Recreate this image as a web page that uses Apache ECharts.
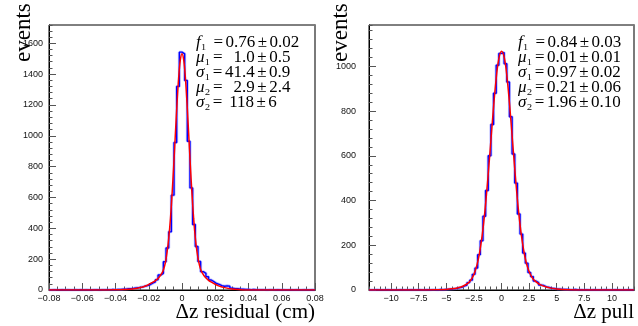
<!DOCTYPE html>
<html><head><meta charset="utf-8">
<script src="https://cdn.jsdelivr.net/npm/echarts@6/dist/echarts.min.js"></script>
<style>html,body{margin:0;padding:0;background:#fff}#c{width:638px;height:326px}</style>
</head><body><div id="c"></div>
<script>
// ---------- data: left panel (Δz residual, cm) ----------
const residMin = -0.08, residMax = 0.08, residBinWidth = 0.0016;
const residCounts = [
 0,1,0,0,2,0,1,0,0,1,
 0,2,0,1,0,0,1,2,0,1,
 1,2,1,3,2,4,3,5,6,8,
 9,11,14,16,19,24,28,34,44,52,
 66,97,108,183,272,377,615,956,1320,1542,
 1531,1359,964,662,425,282,185,119,108,86,
 65,54,42,36,28,24,27,25,12,9,
 8,6,5,4,4,2,3,2,1,2,
 1,0,1,1,0,2,0,1,0,0,
 1,0,1,0,0,1,0,0,1,0
];
const residFitX = [-0.08,-0.05,-0.04,-0.035,-0.03,-0.025,-0.022,-0.02,-0.018,-0.016,-0.014,-0.012,-0.011,-0.01,-0.009,-0.008,-0.007,-0.006,-0.005,-0.004,-0.003,-0.002,-0.001,0,0.001,0.002,0.003,0.004,0.005,0.006,0.007,0.008,0.009,0.01,0.011,0.012,0.014,0.016,0.018,0.02,0.022,0.025,0.03,0.035,0.04,0.05,0.08];
const residFitY = [0,0.2,1,2.5,6,16,26,36,48,61,80,111,136,178,244,334,457,617,804,1009,1208,1378,1491,1532,1493,1382,1214,1016,812,625,464,340,249,185,140,114,82,63,49,37,27,17,6.5,2.2,0.6,0.1,0];
const residLabels = [-0.08,-0.06,-0.04,-0.02,0,0.02,0.04,0.06,0.08];
const residYMax = 1718;
const residStats = [['f','₁ ','0.76','0.02'],['μ','₁','  1.0','0.5'],['σ','₁','41.4','0.9'],['μ','₂','  2.9','2.4'],['σ','₂',' 118','6']];

// ---------- data: right panel (Δz pull) ----------
const pullMin = -12, pullMax = 12, pullBinWidth = 0.24;
const pullCounts = [
 0,0,1,0,0,0,1,0,0,0,
 0,1,0,0,0,1,0,0,1,0,
 0,1,0,1,1,0,2,1,2,3,
 4,6,7,10,12,18,22,33,44,70,
 98,158,220,330,445,600,740,880,1005,1058,
 1062,1012,930,775,608,478,340,250,165,120,
 78,60,40,33,22,20,14,12,8,7,
 5,4,3,2,2,1,1,2,0,1,
 0,1,0,0,1,0,0,0,1,0,
 0,0,1,0,0,0,0,1,0,0
];
const pullFitX = [-12,-8,-7,-6,-5,-4.5,-4,-3.5,-3,-2.75,-2.5,-2.25,-2,-1.75,-1.5,-1.25,-1,-0.75,-0.5,-0.25,0,0.25,0.5,0.75,1,1.25,1.5,1.75,2,2.25,2.5,2.75,3,3.5,4,4.5,5,6,7,8,12];
const pullFitY = [0,0.05,0.2,0.7,2.7,5.1,9.4,16.7,32,46.5,70,107,163,244,354,490,644,800,937,1032,1068,1040,951,819,665,512,374,263,180,121,83,58,42,24,14.4,8.4,4.6,1.2,0.3,0.05,0];
const pullLabels = [-10,-7.5,-5,-2.5,0,2.5,5,7.5,10];
const pullYMax = 1185;
const pullStats = [['f','₁ ','0.84','0.03'],['μ','₁','0.01','0.01'],['σ','₁','0.97','0.02'],['μ','₂','0.21','0.06'],['σ','₂','1.96','0.10']];

// ---------- helpers ----------
function histData(min, bw, counts){
  const d = [];
  for (let k = 0; k < counts.length; k++) d.push([min + k*bw, counts[k]]);
  d.push([min + counts.length*bw, counts[counts.length-1]]);
  return d;
}
function zip(xs, ys){ return xs.map((x,i)=>[x, ys[i]]); }
const minus = s => String(s).replace('-', '\u2212');

const labelStyle = {fontFamily:'Liberation Sans', fontSize:9, color:'#111'};
const tickColor = '#555';

function xAxes(grid, min, max, minorInterval, customMajor, fmt){
  const main = {
    type:'value', gridIndex:grid, position:'bottom', min, max,
    axisLine:{show:true, onZero:false, lineStyle:{color:'#000', width:1}},
    axisTick:{show:true, inside:true, length:7, customValues:customMajor, lineStyle:{color:tickColor}},
    axisLabel:Object.assign({show:true, margin:4, formatter:fmt, customValues:customMajor}, labelStyle),
    splitLine:{show:false}
  };
  const minor = {
    type:'value', gridIndex:grid, position:'bottom', min, max, interval:minorInterval,
    axisLine:{show:false, onZero:false}, axisLabel:{show:false}, splitLine:{show:false},
    axisTick:{show:true, inside:true, length:3.5, lineStyle:{color:tickColor}}
  };
  return [main, minor];
}
function yAxes(grid, max, margin){
  return [
    {type:'value', gridIndex:grid, position:'left', min:0, max, interval:200,
     axisLine:{show:true, onZero:false, lineStyle:{color:'#000', width:1}},
     axisTick:{show:true, inside:true, length:7, lineStyle:{color:tickColor}},
     axisLabel:Object.assign({show:true, margin, showMaxLabel:false, formatter:v => String(v)}, labelStyle),
     splitLine:{show:false}},
    {type:'value', gridIndex:grid, position:'left', min:0, max, interval:40,
     axisLine:{show:false, onZero:false}, axisLabel:{show:false}, splitLine:{show:false},
     axisTick:{show:true, inside:true, length:3.5, lineStyle:{color:tickColor}}},
    {type:'value', gridIndex:grid, position:'right', min:0, max,
     axisLine:{show:true, onZero:false, lineStyle:{color:'#7a7a7a', width:2}},
     axisTick:{show:false}, axisLabel:{show:false}, splitLine:{show:false}}
  ];
}

function statsText(stats){
  return stats.map(s => `{i|${s[0]}}{n|${s[1]}}{o|=}{n|${s[2]}}{o|±}{n|${s[3]}}`).join('\n');
}
const richStyles = {
  i:{fontFamily:'Liberation Serif', fontSize:17, fontStyle:'italic', lineHeight:15, fill:'#000'},
  n:{fontFamily:'Liberation Serif', fontSize:17, lineHeight:15, fill:'#000'},
  o:{fontFamily:'Liberation Serif', fontSize:17, lineHeight:15, fill:'#000', padding:[0,2.5,0,2.5]}
};

const residX = xAxes(0, residMin, residMax, 0.005, residLabels, v => Math.abs(v) < 1e-9 ? '0' : minus(v.toFixed(2)));
const pullX = xAxes(1, pullMin, pullMax, 0.5, pullLabels, v => minus(v));

const option = {
  animation:false,
  backgroundColor:'#fff',
  grid:[
    {left:49, top:25, width:266, height:265, show:true, borderColor:'#000', borderWidth:1, backgroundColor:'transparent'},
    {left:369, top:25, width:265, height:265, show:true, borderColor:'#000', borderWidth:1, backgroundColor:'transparent'}
  ],
  xAxis:[...residX, ...pullX],
  yAxis:[...yAxes(0, residYMax, 6), ...yAxes(1, pullYMax, 13)],
  series:[
    {type:'line', xAxisIndex:0, yAxisIndex:0, step:'end', symbol:'none', silent:true,
     data:histData(residMin, residBinWidth, residCounts), lineStyle:{color:'rgba(110,110,255,0.45)', width:3}, z:2},
    {type:'line', xAxisIndex:0, yAxisIndex:0, step:'end', symbol:'none', silent:true,
     data:histData(residMin, residBinWidth, residCounts), lineStyle:{color:'#0000ff', width:1.4}, z:3},
    {type:'line', xAxisIndex:0, yAxisIndex:0, symbol:'none', silent:true, smooth:0.35,
     data:zip(residFitX, residFitY), lineStyle:{color:'#ff0000', width:1.5}, z:4},
    {type:'line', xAxisIndex:2, yAxisIndex:3, step:'end', symbol:'none', silent:true,
     data:histData(pullMin, pullBinWidth, pullCounts), lineStyle:{color:'rgba(110,110,255,0.45)', width:3}, z:2},
    {type:'line', xAxisIndex:2, yAxisIndex:3, step:'end', symbol:'none', silent:true,
     data:histData(pullMin, pullBinWidth, pullCounts), lineStyle:{color:'#0000ff', width:1.4}, z:3},
    {type:'line', xAxisIndex:2, yAxisIndex:3, symbol:'none', silent:true, smooth:0.35,
     data:zip(pullFitX, pullFitY), lineStyle:{color:'#ff0000', width:1.5}, z:4}
  ],
  graphic:[
    {type:'text', x:24, y:62, rotation:Math.PI/2, z:10,
     style:{text:'events', font:'23px "Liberation Serif"', fill:'#000', textAlign:'left', textVerticalAlign:'middle'}},
    {type:'text', x:341, y:62, rotation:Math.PI/2, z:10,
     style:{text:'events', font:'23px "Liberation Serif"', fill:'#000', textAlign:'left', textVerticalAlign:'middle'}},
    {type:'text', x:315, y:312, z:10,
     style:{text:'Δz residual (cm)', font:'21px "Liberation Serif"', fill:'#000', textAlign:'right', textVerticalAlign:'middle'}},
    {type:'text', x:634, y:312, z:10,
     style:{text:'Δz pull', font:'21px "Liberation Serif"', fill:'#000', textAlign:'right', textVerticalAlign:'middle'}},
    {type:'text', x:196, y:35, z:10,
     style:{text:statsText(residStats), rich:richStyles, fontFamily:'Liberation Serif', fontSize:17, lineHeight:15, textAlign:'left', textVerticalAlign:'top', fill:'#000'}},
    {type:'text', x:518, y:35, z:10,
     style:{text:statsText(pullStats), rich:richStyles, fontFamily:'Liberation Serif', fontSize:17, lineHeight:15, textAlign:'left', textVerticalAlign:'top', fill:'#000'}}
  ]
};
const chart = echarts.init(document.getElementById('c'), null, {renderer:'canvas'});
chart.setOption(option);
</script>
</body></html>
